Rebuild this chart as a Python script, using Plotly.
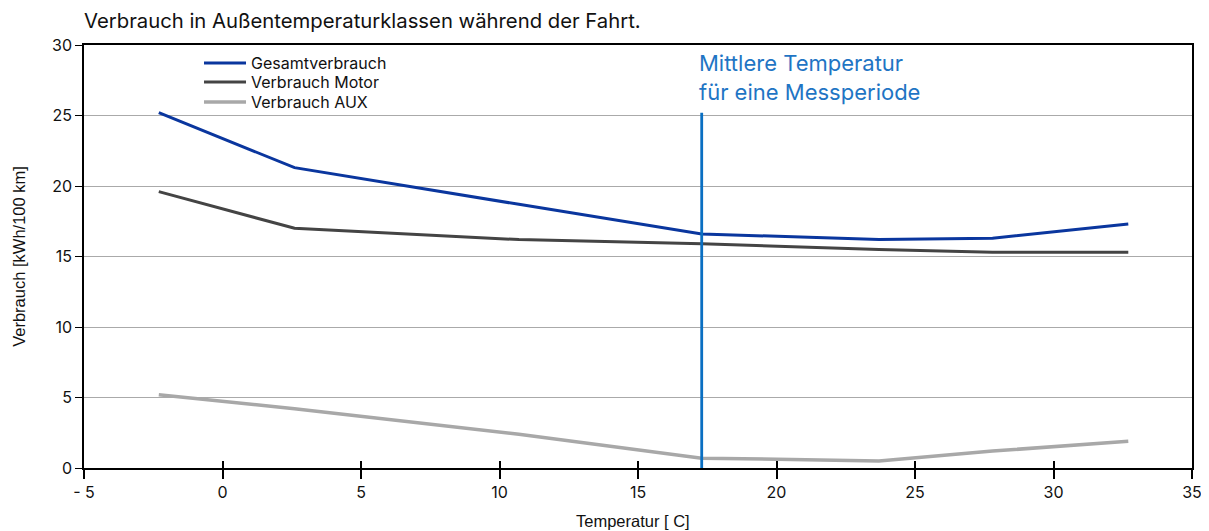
import plotly.graph_objects as go

# Data
temperature = [-2.3, 2.6, 10.7, 17.3, 23.7, 27.8, 32.7]
gesamt = [25.2, 21.3, 18.7, 16.6, 16.2, 16.3, 17.3]
motor = [19.6, 17.0, 16.2, 15.9, 15.5, 15.3, 15.3]
aux = [5.2, 4.2, 2.4, 0.7, 0.5, 1.2, 1.9]
mean_temp = 17.3
mean_line_top = 25.2
x_ticks = [-5, 0, 5, 10, 15, 20, 25, 30, 35]
x_tick_labels = ["- 5", "0", "5", "10", "15", "20", "25", "30", "35"]
y_ticks = [0, 5, 10, 15, 20, 25, 30]

FONT = "Inter"
FONT2 = "Liberation Sans"
TXT = "#111111"

# the page body has an 8px margin, so the figure is made 8px smaller
W, H = 1201, 523

fig = go.Figure()
fig.add_trace(go.Scatter(x=temperature, y=gesamt, mode="lines", name="Gesamtverbrauch",
                         line=dict(color="#0a369e", width=3), legend="legend"))
fig.add_trace(go.Scatter(x=temperature, y=motor, mode="lines", name="Verbrauch Motor",
                         line=dict(color="#444444", width=3), legend="legend2"))
fig.add_trace(go.Scatter(x=temperature, y=aux, mode="lines", name="Verbrauch AUX",
                         line=dict(color="#a8a8a8", width=3.5), legend="legend3"))
fig.add_trace(go.Scatter(x=[mean_temp, mean_temp], y=[0, mean_line_top], mode="lines",
                         showlegend=False, line=dict(color="#0a6fc2", width=2.8),
                         hoverinfo="skip"))
# invisible helper trace so the overlaid axis (inner tick marks) is drawn
fig.add_trace(go.Scatter(x=temperature, y=aux, mode="lines", xaxis="x2",
                         showlegend=False, hoverinfo="skip",
                         line=dict(width=0, color="rgba(0,0,0,0)")))

fig.add_annotation(x=mean_temp, y=27.7, xref="x", yref="y",
                   text="Mittlere Temperatur<br>für eine Messperiode",
                   showarrow=False, xanchor="left", yanchor="middle", align="left",
                   xshift=-5,
                   font=dict(family=FONT, size=22, color="#1f75c4"))

# x-axis title
fig.add_annotation(x=0.5, y=0, xref="paper", yref="paper", text="Temperatur [ C]",
                   showarrow=False, xanchor="center", yanchor="middle",
                   xshift=-5, yshift=-53,
                   font=dict(family=FONT2, size=16.5, color=TXT))

legend_style = dict(x=0.1038, xanchor="left", yanchor="middle",
                    bgcolor="rgba(0,0,0,0)", font=dict(family=FONT, size=16, color=TXT),
                    tracegroupgap=0, itemwidth=42)

fig.update_layout(
    width=W, height=H,
    margin=dict(l=76, r=17, t=37, b=63, autoexpand=False),
    paper_bgcolor="white", plot_bgcolor="white",
    font=dict(family=FONT, color=TXT),
    title=dict(text="Verbrauch in Außentemperaturklassen während der Fahrt.",
               x=76/W, xanchor="left", y=1-13/H, yanchor="middle",
               font=dict(family=FONT, size=20.3, color=TXT)),
    legend=dict(y=1-18/423, **legend_style),
    legend2=dict(y=1-37/423, **legend_style),
    legend3=dict(y=1-57/423, **legend_style),
    showlegend=True,
)

fig.update_xaxes(range=[-5, 35], tickvals=x_ticks, ticktext=x_tick_labels,
                 showgrid=False, zeroline=False, showline=True, linecolor="black",
                 linewidth=1.5, mirror=True, ticks="outside", ticklen=9, tickwidth=1.5,
                 tickcolor="black", tickfont=dict(family=FONT, size=16, color=TXT),
                 automargin=False)
fig.update_yaxes(range=[0, 30], tickvals=y_ticks, showgrid=True, gridcolor="#aaaaaa",
                 gridwidth=1, zeroline=False, showline=True, linecolor="black",
                 linewidth=1.5, mirror=True, ticks="outside", ticklen=7, tickwidth=1.2,
                 tickcolor="black", tickfont=dict(family=FONT, size=16, color=TXT),
                 automargin=False,
                 title=dict(text="Verbrauch [kWh/100 km]", standoff=22,
                            font=dict(family=FONT2, size=16.5, color=TXT)))

# inside tick marks on x axis (ticks cross the axis line)
fig.update_layout(xaxis2=dict(overlaying="x", anchor="y", side="bottom", range=[-5, 35],
                              tickvals=x_ticks, showticklabels=False, ticks="inside",
                              ticklen=7, tickwidth=1.5, tickcolor="black",
                              showgrid=False, zeroline=False, showline=False,
                              automargin=False))

fig.write_html("out.html")
